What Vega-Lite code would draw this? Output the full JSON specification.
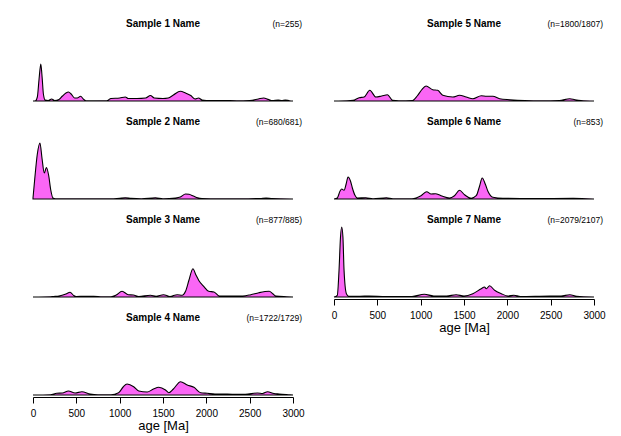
{
  "$schema": "https://vega.github.io/schema/vega-lite/v6.json",
  "padding": {"left": 30, "top": 18, "right": 5, "bottom": 2},
  "config": {"font": "Liberation Sans", "view": {"stroke": null}},
  "datasets": {
    "kde": [
      {"sample":1,"age":0,"density":0},{"sample":1,"age":30,"density":0.3},{"sample":1,"age":50,"density":4},{"sample":1,"age":70,"density":22},{"sample":1,"age":90,"density":37},{"sample":1,"age":105,"density":24},{"sample":1,"age":120,"density":7},{"sample":1,"age":140,"density":1},{"sample":1,"age":175,"density":0.5},{"sample":1,"age":215,"density":2},{"sample":1,"age":250,"density":0.5},{"sample":1,"age":300,"density":1.5},{"sample":1,"age":340,"density":5},{"sample":1,"age":380,"density":8},{"sample":1,"age":410,"density":9},{"sample":1,"age":440,"density":7},{"sample":1,"age":480,"density":3},{"sample":1,"age":510,"density":3},{"sample":1,"age":550,"density":4.7},{"sample":1,"age":580,"density":2},{"sample":1,"age":610,"density":0.3},{"sample":1,"age":700,"density":0.1},{"sample":1,"age":850,"density":0.2},{"sample":1,"age":900,"density":2.5},{"sample":1,"age":1000,"density":3},{"sample":1,"age":1065,"density":4},{"sample":1,"age":1100,"density":2.5},{"sample":1,"age":1200,"density":2.5},{"sample":1,"age":1300,"density":3},{"sample":1,"age":1355,"density":5.5},{"sample":1,"age":1400,"density":3},{"sample":1,"age":1500,"density":2.5},{"sample":1,"age":1560,"density":3},{"sample":1,"age":1620,"density":6},{"sample":1,"age":1700,"density":9.7},{"sample":1,"age":1760,"density":8},{"sample":1,"age":1820,"density":5.5},{"sample":1,"age":1870,"density":2},{"sample":1,"age":1910,"density":3},{"sample":1,"age":1950,"density":1},{"sample":1,"age":2000,"density":0.5},{"sample":1,"age":2200,"density":0.5},{"sample":1,"age":2350,"density":0.3},{"sample":1,"age":2500,"density":0.5},{"sample":1,"age":2600,"density":2},{"sample":1,"age":2660,"density":3},{"sample":1,"age":2720,"density":1.5},{"sample":1,"age":2760,"density":0.5},{"sample":1,"age":2830,"density":1},{"sample":1,"age":2870,"density":0.5},{"sample":1,"age":2910,"density":1},{"sample":1,"age":2960,"density":0.3},{"sample":1,"age":3000,"density":0},
      {"sample":2,"age":0,"density":1},{"sample":2,"age":20,"density":20},{"sample":2,"age":50,"density":45},{"sample":2,"age":80,"density":56},{"sample":2,"age":105,"density":40},{"sample":2,"age":130,"density":26},{"sample":2,"age":155,"density":31.5},{"sample":2,"age":180,"density":24},{"sample":2,"age":205,"density":9},{"sample":2,"age":230,"density":1},{"sample":2,"age":260,"density":0.2},{"sample":2,"age":400,"density":0.3},{"sample":2,"age":600,"density":0.2},{"sample":2,"age":900,"density":0.2},{"sample":2,"age":1000,"density":0.8},{"sample":2,"age":1065,"density":1.2},{"sample":2,"age":1130,"density":0.7},{"sample":2,"age":1250,"density":0.3},{"sample":2,"age":1413,"density":1.3},{"sample":2,"age":1500,"density":0.3},{"sample":2,"age":1645,"density":1},{"sample":2,"age":1700,"density":2},{"sample":2,"age":1760,"density":5},{"sample":2,"age":1800,"density":4.7},{"sample":2,"age":1850,"density":3},{"sample":2,"age":1900,"density":1.2},{"sample":2,"age":1950,"density":0.5},{"sample":2,"age":2100,"density":0.3},{"sample":2,"age":2400,"density":0.2},{"sample":2,"age":2620,"density":0.5},{"sample":2,"age":2690,"density":1},{"sample":2,"age":2760,"density":0.4},{"sample":2,"age":3000,"density":0},
      {"sample":3,"age":0,"density":0},{"sample":3,"age":200,"density":0.2},{"sample":3,"age":235,"density":0.5},{"sample":3,"age":300,"density":1},{"sample":3,"age":380,"density":3},{"sample":3,"age":428,"density":4.7},{"sample":3,"age":470,"density":1.5},{"sample":3,"age":500,"density":0.5},{"sample":3,"age":600,"density":0.7},{"sample":3,"age":700,"density":0.7},{"sample":3,"age":800,"density":0.3},{"sample":3,"age":900,"density":0.3},{"sample":3,"age":960,"density":2},{"sample":3,"age":1027,"density":5.7},{"sample":3,"age":1100,"density":2.3},{"sample":3,"age":1158,"density":2},{"sample":3,"age":1220,"density":0.5},{"sample":3,"age":1355,"density":1.7},{"sample":3,"age":1420,"density":0.8},{"sample":3,"age":1506,"density":2.3},{"sample":3,"age":1580,"density":0.5},{"sample":3,"age":1664,"density":2.3},{"sample":3,"age":1720,"density":1.7},{"sample":3,"age":1760,"density":5.7},{"sample":3,"age":1800,"density":17},{"sample":3,"age":1845,"density":28.3},{"sample":3,"age":1880,"density":22},{"sample":3,"age":1915,"density":16.3},{"sample":3,"age":1970,"density":10.7},{"sample":3,"age":2027,"density":5.7},{"sample":3,"age":2088,"density":5},{"sample":3,"age":2150,"density":1},{"sample":3,"age":2316,"density":1},{"sample":3,"age":2420,"density":1},{"sample":3,"age":2513,"density":2.3},{"sample":3,"age":2606,"density":4.3},{"sample":3,"age":2725,"density":5.7},{"sample":3,"age":2770,"density":3},{"sample":3,"age":2802,"density":1},{"sample":3,"age":2930,"density":0.3},{"sample":3,"age":3000,"density":0},
      {"sample":4,"age":0,"density":0},{"sample":4,"age":200,"density":0.3},{"sample":4,"age":274,"density":1.7},{"sample":4,"age":340,"density":2},{"sample":4,"age":409,"density":4},{"sample":4,"age":486,"density":2},{"sample":4,"age":564,"density":3.3},{"sample":4,"age":660,"density":1},{"sample":4,"age":750,"density":0.3},{"sample":4,"age":900,"density":0.3},{"sample":4,"age":988,"density":2.3},{"sample":4,"age":1040,"density":8},{"sample":4,"age":1085,"density":11},{"sample":4,"age":1162,"density":8.3},{"sample":4,"age":1220,"density":4},{"sample":4,"age":1317,"density":3},{"sample":4,"age":1390,"density":6},{"sample":4,"age":1451,"density":7.7},{"sample":4,"age":1529,"density":5},{"sample":4,"age":1567,"density":2.3},{"sample":4,"age":1620,"density":6},{"sample":4,"age":1702,"density":13.3},{"sample":4,"age":1780,"density":10},{"sample":4,"age":1857,"density":7.7},{"sample":4,"age":1934,"density":2.3},{"sample":4,"age":2011,"density":1.7},{"sample":4,"age":2100,"density":1},{"sample":4,"age":2185,"density":1},{"sample":4,"age":2300,"density":0.7},{"sample":4,"age":2450,"density":0.7},{"sample":4,"age":2590,"density":2},{"sample":4,"age":2650,"density":1.5},{"sample":4,"age":2706,"density":3.3},{"sample":4,"age":2780,"density":1.5},{"sample":4,"age":2840,"density":1},{"sample":4,"age":2950,"density":0.3},{"sample":4,"age":3000,"density":0},
      {"sample":5,"age":0,"density":0},{"sample":5,"age":150,"density":0.2},{"sample":5,"age":220,"density":0.7},{"sample":5,"age":290,"density":3.3},{"sample":5,"age":347,"density":4},{"sample":5,"age":413,"density":10.7},{"sample":5,"age":483,"density":4},{"sample":5,"age":550,"density":5},{"sample":5,"age":617,"density":6.3},{"sample":5,"age":675,"density":0.7},{"sample":5,"age":750,"density":0.2},{"sample":5,"age":907,"density":0.5},{"sample":5,"age":960,"density":5},{"sample":5,"age":1010,"density":11},{"sample":5,"age":1062,"density":15},{"sample":5,"age":1139,"density":11.3},{"sample":5,"age":1197,"density":10.7},{"sample":5,"age":1255,"density":5.7},{"sample":5,"age":1371,"density":4},{"sample":5,"age":1448,"density":5.7},{"sample":5,"age":1525,"density":4},{"sample":5,"age":1602,"density":2.3},{"sample":5,"age":1699,"density":5.3},{"sample":5,"age":1760,"density":4.7},{"sample":5,"age":1833,"density":4.7},{"sample":5,"age":1911,"density":2.3},{"sample":5,"age":2027,"density":1.3},{"sample":5,"age":2200,"density":0.5},{"sample":5,"age":2400,"density":0.3},{"sample":5,"age":2600,"density":0.5},{"sample":5,"age":2721,"density":2.3},{"sample":5,"age":2780,"density":1.3},{"sample":5,"age":2850,"density":0.5},{"sample":5,"age":3000,"density":0},
      {"sample":6,"age":0,"density":0},{"sample":6,"age":38,"density":1},{"sample":6,"age":70,"density":8},{"sample":6,"age":89,"density":10},{"sample":6,"age":116,"density":8.7},{"sample":6,"age":140,"density":15},{"sample":6,"age":162,"density":22},{"sample":6,"age":190,"density":18},{"sample":6,"age":212,"density":11},{"sample":6,"age":240,"density":4},{"sample":6,"age":270,"density":1},{"sample":6,"age":367,"density":1.3},{"sample":6,"age":450,"density":0.3},{"sample":6,"age":606,"density":1.3},{"sample":6,"age":680,"density":0.3},{"sample":6,"age":900,"density":0.3},{"sample":6,"age":1004,"density":3.3},{"sample":6,"age":1070,"density":7.3},{"sample":6,"age":1120,"density":5},{"sample":6,"age":1170,"density":5.3},{"sample":6,"age":1235,"density":3.3},{"sample":6,"age":1332,"density":1},{"sample":6,"age":1390,"density":3.3},{"sample":6,"age":1448,"density":8.7},{"sample":6,"age":1506,"density":4.3},{"sample":6,"age":1583,"density":0.7},{"sample":6,"age":1641,"density":3.3},{"sample":6,"age":1680,"density":13},{"sample":6,"age":1710,"density":21},{"sample":6,"age":1745,"density":15},{"sample":6,"age":1776,"density":7.7},{"sample":6,"age":1833,"density":1.7},{"sample":6,"age":1950,"density":0.7},{"sample":6,"age":2300,"density":0.4},{"sample":6,"age":2760,"density":0.7},{"sample":6,"age":3000,"density":0},
      {"sample":7,"age":0,"density":0},{"sample":7,"age":38,"density":1.7},{"sample":7,"age":58,"density":26.7},{"sample":7,"age":75,"density":60},{"sample":7,"age":89,"density":70},{"sample":7,"age":103,"density":60},{"sample":7,"age":116,"density":26.7},{"sample":7,"age":143,"density":3.3},{"sample":7,"age":170,"density":0.7},{"sample":7,"age":300,"density":0.7},{"sample":7,"age":405,"density":1},{"sample":7,"age":600,"density":0.5},{"sample":7,"age":900,"density":0.5},{"sample":7,"age":1042,"density":2.7},{"sample":7,"age":1150,"density":1},{"sample":7,"age":1300,"density":1},{"sample":7,"age":1409,"density":2.3},{"sample":7,"age":1500,"density":1},{"sample":7,"age":1602,"density":3.3},{"sample":7,"age":1699,"density":8.3},{"sample":7,"age":1737,"density":10},{"sample":7,"age":1757,"density":8.3},{"sample":7,"age":1795,"density":11.3},{"sample":7,"age":1853,"density":6.7},{"sample":7,"age":1930,"density":3.3},{"sample":7,"age":2008,"density":1},{"sample":7,"age":2076,"density":1.7},{"sample":7,"age":2150,"density":0.5},{"sample":7,"age":2490,"density":1},{"sample":7,"age":2620,"density":1},{"sample":7,"age":2721,"density":2.3},{"sample":7,"age":2800,"density":0.7},{"sample":7,"age":3000,"density":0}
    ],
    "meta": [
      {"sample":1,"name":"Sample 1 Name","n":"(n=255)"},
      {"sample":2,"name":"Sample 2 Name","n":"(n=680/681)"},
      {"sample":3,"name":"Sample 3 Name","n":"(n=877/885)"},
      {"sample":4,"name":"Sample 4 Name","n":"(n=1722/1729)"},
      {"sample":5,"name":"Sample 5 Name","n":"(n=1800/1807)"},
      {"sample":6,"name":"Sample 6 Name","n":"(n=853)"},
      {"sample":7,"name":"Sample 7 Name","n":"(n=2079/2107)"}
    ]
  },
  "hconcat": [
    {"spacing": 12, "vconcat": [
      {"width": 260, "height": 70, "layer": [
        {"data": {"name": "kde"}, "transform": [{"filter": "datum.sample === 1"}], "mark": {"type": "area", "interpolate": "monotone", "fill": "#FA66F5", "stroke": "black", "strokeWidth": 1.1}, "encoding": {"x": {"field": "age", "type": "quantitative", "scale": {"domain": [0, 3000], "nice": false}, "axis": null}, "y": {"field": "density", "type": "quantitative", "scale": {"domain": [0, 70], "nice": false}, "axis": null}}},
        {"data": {"name": "meta"}, "transform": [{"filter": "datum.sample === 1"}], "mark": {"type": "text", "fontSize": 10, "fontWeight": "bold", "baseline": "middle", "dy": -7.5, "color": "black"}, "encoding": {"x": {"datum": 1500, "type": "quantitative"}, "y": {"datum": 70, "type": "quantitative"}, "text": {"field": "name"}}},
        {"data": {"name": "meta"}, "transform": [{"filter": "datum.sample === 1"}], "mark": {"type": "text", "fontSize": 8.5, "align": "right", "dx": 9, "baseline": "middle", "dy": -7.5, "color": "black"}, "encoding": {"x": {"datum": 3000, "type": "quantitative"}, "y": {"datum": 70, "type": "quantitative"}, "text": {"field": "n"}}}
      ]},
      {"width": 260, "height": 70, "layer": [
        {"data": {"name": "kde"}, "transform": [{"filter": "datum.sample === 2"}], "mark": {"type": "area", "interpolate": "monotone", "fill": "#FA66F5", "stroke": "black", "strokeWidth": 1.1}, "encoding": {"x": {"field": "age", "type": "quantitative", "scale": {"domain": [0, 3000], "nice": false}, "axis": null}, "y": {"field": "density", "type": "quantitative", "scale": {"domain": [0, 70], "nice": false}, "axis": null}}},
        {"data": {"name": "meta"}, "transform": [{"filter": "datum.sample === 2"}], "mark": {"type": "text", "fontSize": 10, "fontWeight": "bold", "baseline": "middle", "dy": -7.5, "color": "black"}, "encoding": {"x": {"datum": 1500, "type": "quantitative"}, "y": {"datum": 70, "type": "quantitative"}, "text": {"field": "name"}}},
        {"data": {"name": "meta"}, "transform": [{"filter": "datum.sample === 2"}], "mark": {"type": "text", "fontSize": 8.5, "align": "right", "dx": 9, "baseline": "middle", "dy": -7.5, "color": "black"}, "encoding": {"x": {"datum": 3000, "type": "quantitative"}, "y": {"datum": 70, "type": "quantitative"}, "text": {"field": "n"}}}
      ]},
      {"width": 260, "height": 70, "layer": [
        {"data": {"name": "kde"}, "transform": [{"filter": "datum.sample === 3"}], "mark": {"type": "area", "interpolate": "monotone", "fill": "#FA66F5", "stroke": "black", "strokeWidth": 1.1}, "encoding": {"x": {"field": "age", "type": "quantitative", "scale": {"domain": [0, 3000], "nice": false}, "axis": null}, "y": {"field": "density", "type": "quantitative", "scale": {"domain": [0, 70], "nice": false}, "axis": null}}},
        {"data": {"name": "meta"}, "transform": [{"filter": "datum.sample === 3"}], "mark": {"type": "text", "fontSize": 10, "fontWeight": "bold", "baseline": "middle", "dy": -7.5, "color": "black"}, "encoding": {"x": {"datum": 1500, "type": "quantitative"}, "y": {"datum": 70, "type": "quantitative"}, "text": {"field": "name"}}},
        {"data": {"name": "meta"}, "transform": [{"filter": "datum.sample === 3"}], "mark": {"type": "text", "fontSize": 8.5, "align": "right", "dx": 9, "baseline": "middle", "dy": -7.5, "color": "black"}, "encoding": {"x": {"datum": 3000, "type": "quantitative"}, "y": {"datum": 70, "type": "quantitative"}, "text": {"field": "n"}}}
      ]},
      {"width": 260, "height": 70, "layer": [
        {"data": {"name": "kde"}, "transform": [{"filter": "datum.sample === 4"}], "mark": {"type": "area", "interpolate": "monotone", "fill": "#FA66F5", "stroke": "black", "strokeWidth": 1.1}, "encoding": {"x": {"field": "age", "type": "quantitative", "scale": {"domain": [0, 3000], "nice": false}, "axis": {"values": [0, 500, 1000, 1500, 2000, 2500, 3000], "format": "d", "title": "age [Ma]", "grid": false, "domainColor": "black", "tickColor": "black", "tickSize": 6, "labelFontSize": 10, "labelColor": "black", "titleFontSize": 13, "titleFontWeight": "normal", "titleColor": "black", "labelPadding": 5, "titlePadding": 1, "offset": 2, "labelFlush": false}}, "y": {"field": "density", "type": "quantitative", "scale": {"domain": [0, 70], "nice": false}, "axis": null}}},
        {"data": {"name": "meta"}, "transform": [{"filter": "datum.sample === 4"}], "mark": {"type": "text", "fontSize": 10, "fontWeight": "bold", "baseline": "middle", "dy": -7.5, "color": "black"}, "encoding": {"x": {"datum": 1500, "type": "quantitative"}, "y": {"datum": 70, "type": "quantitative"}, "text": {"field": "name"}}},
        {"data": {"name": "meta"}, "transform": [{"filter": "datum.sample === 4"}], "mark": {"type": "text", "fontSize": 8.5, "align": "right", "dx": 9, "baseline": "middle", "dy": -7.5, "color": "black"}, "encoding": {"x": {"datum": 3000, "type": "quantitative"}, "y": {"datum": 70, "type": "quantitative"}, "text": {"field": "n"}}}
      ]}
    ]},
    {"spacing": 12, "vconcat": [
      {"width": 260, "height": 70, "layer": [
        {"data": {"name": "kde"}, "transform": [{"filter": "datum.sample === 5"}], "mark": {"type": "area", "interpolate": "monotone", "fill": "#FA66F5", "stroke": "black", "strokeWidth": 1.1}, "encoding": {"x": {"field": "age", "type": "quantitative", "scale": {"domain": [0, 3000], "nice": false}, "axis": null}, "y": {"field": "density", "type": "quantitative", "scale": {"domain": [0, 70], "nice": false}, "axis": null}}},
        {"data": {"name": "meta"}, "transform": [{"filter": "datum.sample === 5"}], "mark": {"type": "text", "fontSize": 10, "fontWeight": "bold", "baseline": "middle", "dy": -7.5, "color": "black"}, "encoding": {"x": {"datum": 1500, "type": "quantitative"}, "y": {"datum": 70, "type": "quantitative"}, "text": {"field": "name"}}},
        {"data": {"name": "meta"}, "transform": [{"filter": "datum.sample === 5"}], "mark": {"type": "text", "fontSize": 8.5, "align": "right", "dx": 9, "baseline": "middle", "dy": -7.5, "color": "black"}, "encoding": {"x": {"datum": 3000, "type": "quantitative"}, "y": {"datum": 70, "type": "quantitative"}, "text": {"field": "n"}}}
      ]},
      {"width": 260, "height": 70, "layer": [
        {"data": {"name": "kde"}, "transform": [{"filter": "datum.sample === 6"}], "mark": {"type": "area", "interpolate": "monotone", "fill": "#FA66F5", "stroke": "black", "strokeWidth": 1.1}, "encoding": {"x": {"field": "age", "type": "quantitative", "scale": {"domain": [0, 3000], "nice": false}, "axis": null}, "y": {"field": "density", "type": "quantitative", "scale": {"domain": [0, 70], "nice": false}, "axis": null}}},
        {"data": {"name": "meta"}, "transform": [{"filter": "datum.sample === 6"}], "mark": {"type": "text", "fontSize": 10, "fontWeight": "bold", "baseline": "middle", "dy": -7.5, "color": "black"}, "encoding": {"x": {"datum": 1500, "type": "quantitative"}, "y": {"datum": 70, "type": "quantitative"}, "text": {"field": "name"}}},
        {"data": {"name": "meta"}, "transform": [{"filter": "datum.sample === 6"}], "mark": {"type": "text", "fontSize": 8.5, "align": "right", "dx": 9, "baseline": "middle", "dy": -7.5, "color": "black"}, "encoding": {"x": {"datum": 3000, "type": "quantitative"}, "y": {"datum": 70, "type": "quantitative"}, "text": {"field": "n"}}}
      ]},
      {"width": 260, "height": 70, "layer": [
        {"data": {"name": "kde"}, "transform": [{"filter": "datum.sample === 7"}], "mark": {"type": "area", "interpolate": "monotone", "fill": "#FA66F5", "stroke": "black", "strokeWidth": 1.1}, "encoding": {"x": {"field": "age", "type": "quantitative", "scale": {"domain": [0, 3000], "nice": false}, "axis": {"values": [0, 500, 1000, 1500, 2000, 2500, 3000], "format": "d", "title": "age [Ma]", "grid": false, "domainColor": "black", "tickColor": "black", "tickSize": 6, "labelFontSize": 10, "labelColor": "black", "titleFontSize": 13, "titleFontWeight": "normal", "titleColor": "black", "labelPadding": 5, "titlePadding": 1, "offset": 2, "labelFlush": false}}, "y": {"field": "density", "type": "quantitative", "scale": {"domain": [0, 70], "nice": false}, "axis": null}}},
        {"data": {"name": "meta"}, "transform": [{"filter": "datum.sample === 7"}], "mark": {"type": "text", "fontSize": 10, "fontWeight": "bold", "baseline": "middle", "dy": -7.5, "color": "black"}, "encoding": {"x": {"datum": 1500, "type": "quantitative"}, "y": {"datum": 70, "type": "quantitative"}, "text": {"field": "name"}}},
        {"data": {"name": "meta"}, "transform": [{"filter": "datum.sample === 7"}], "mark": {"type": "text", "fontSize": 8.5, "align": "right", "dx": 9, "baseline": "middle", "dy": -7.5, "color": "black"}, "encoding": {"x": {"datum": 3000, "type": "quantitative"}, "y": {"datum": 70, "type": "quantitative"}, "text": {"field": "n"}}}
      ]}
    ]}
  ],
  "spacing": 26
}
